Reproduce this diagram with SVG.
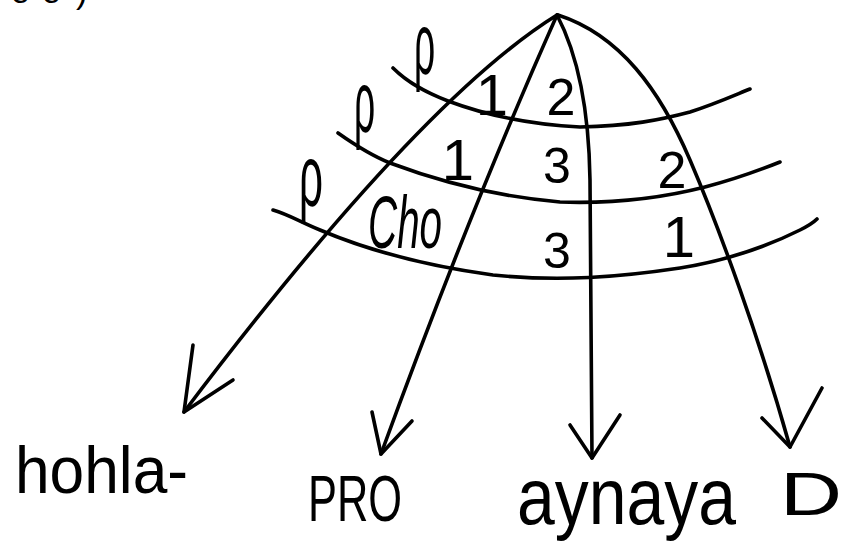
<svg xmlns="http://www.w3.org/2000/svg" width="848" height="552" viewBox="0 0 848 552">
<style>
.ln{fill:none;stroke:#000;stroke-width:3.6;stroke-linecap:round;stroke-linejoin:round}
.t{font-family:"Liberation Sans",Arial,sans-serif;fill:#000}
.hand{font-family:"Liberation Sans",Arial,sans-serif;fill:#000;font-style:italic}
</style>
<rect width="848" height="552" fill="#fff"/>
<text class="t" x="11 42 76" y="3" font-size="34">oo)</text>
<g id="arcs">
<path class="ln" d="M393,68 C410,85 430,94 448,101 C480,113 520,124 580,127 C630,126 660,120 690,112 C715,104 735,95 750,89"/>
<path class="ln" d="M338,133 C355,145 370,155 390,163 C430,178 490,196 560,202 C620,204 670,196 705,187 C740,178 765,168 780,162"/>
<path class="ln" d="M273,210 C290,215 300,222 320,230 C360,247 420,265 493,275 C560,282 620,277 680,268 C730,260 770,245 800,230 C808,226 814,222 817,219"/>
</g>
<g id="connectors">
<path class="ln" d="M557,15 Q420,100 184,412"/>
<path class="ln" d="M193,345 L184,412 L233,380"/>
<path class="ln" d="M557,15 Q470,210 381,454"/>
<path class="ln" d="M372,412 L381,454 L412,421"/>
<path class="ln" d="M557,15 C578,55 589,110 590,180 L592,458"/>
<path class="ln" d="M570,425 L592,458 L620,415"/>
<path class="ln" d="M558,15 C620,35 660,90 690,160 S760,340 790,447"/>
<path class="ln" d="M762,418 L790,447 L822,388"/>
</g>
<g id="rho1"><text class="t" font-size="62" transform="translate(414,74) scale(0.6,1.4)">ρ</text></g>
<g id="rho2"><text class="t" font-size="62" transform="translate(354,132) scale(0.6,1.4)">ρ</text></g>
<g id="rho3"><text class="t" font-size="62" transform="translate(299,206) scale(0.68,1.4)">ρ</text></g>
<g id="cell-1a"><text class="t" x="492" y="115" font-size="58" text-anchor="middle">1</text></g>
<g id="cell-2a"><text class="t" x="561" y="115" font-size="52" text-anchor="middle">2</text></g>
<g id="cell-1b"><text class="t" x="458" y="180" font-size="58" text-anchor="middle">1</text></g>
<g id="cell-3a"><text class="t" x="557" y="183" font-size="50" text-anchor="middle">3</text></g>
<g id="cell-2b"><text class="t" x="672" y="188" font-size="52" text-anchor="middle">2</text></g>
<g id="cell-cho"><text class="hand" x="368" y="248" font-size="74" textLength="74" lengthAdjust="spacingAndGlyphs">Cho</text></g>
<g id="cell-3b"><text class="t" x="557" y="268" font-size="50" text-anchor="middle">3</text></g>
<g id="cell-1c"><text class="t" x="679" y="257" font-size="58" text-anchor="middle">1</text></g>
<g id="label-hohla"><text class="t" x="15" y="493" font-size="66" textLength="173" lengthAdjust="spacingAndGlyphs">hohla-</text></g>
<g id="label-pro"><text class="t" x="308" y="521" font-size="64" textLength="94" lengthAdjust="spacingAndGlyphs">PRO</text></g>
<g id="label-aynaya"><text class="t" x="517" y="524" font-size="80" textLength="219" lengthAdjust="spacingAndGlyphs">aynaya</text></g>
<g id="label-d"><text class="t" x="780" y="515" font-size="62" textLength="62" lengthAdjust="spacingAndGlyphs">D</text></g>
</svg>
